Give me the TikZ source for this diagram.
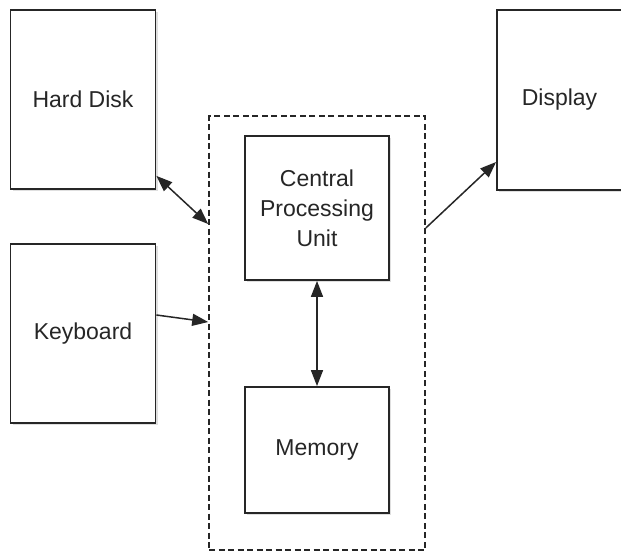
\documentclass[tikz,border=0pt]{standalone}
\usepackage{fontspec}
\setmainfont{Liberation Sans}
\usetikzlibrary{arrows.meta,shadows,calc}
\definecolor{boxline}{HTML}{262626}
\definecolor{txt}{HTML}{262626}
\tikzset{
  blk/.style={draw=boxline, line width=1.8pt, fill=white, rectangle, inner sep=0pt,
    align=center, text=txt, font=\fontsize{23}{30}\selectfont,
    drop shadow={opacity=0.25, shadow xshift=2pt, shadow yshift=-2pt}},
  grp/.style={draw=boxline, line width=1.6pt, dash pattern=on 6pt off 3.5pt, rectangle, inner sep=0pt},
  conn/.style={draw=boxline, line width=1.5pt},
  tip/.style={-{Triangle[length=16pt,width=12pt]}},
  tips/.style={{Triangle[length=16pt,width=12pt]}-{Triangle[length=16pt,width=12pt]}}
}
\begin{document}
\begin{tikzpicture}[x=1pt,y=-1pt]
\useasboundingbox (0,0) rectangle (621,557);
\clip (0,0) rectangle (621,557);
\node[blk, minimum width=145pt, minimum height=179pt] (hd) at (83,99.5) {Hard Disk};
\node[blk, minimum width=145pt, minimum height=179pt] (kb) at (83,333.5) {Keyboard};
\node[grp, minimum width=216pt, minimum height=434pt] (grp) at (317,333) {};
\node[blk, minimum width=144pt, minimum height=144pt] (cpu) at (317,208) {Central\\Processing\\Unit};
\node[blk, minimum width=144pt, minimum height=126pt] (mem) at (317,450) {Memory};
\node[blk, minimum width=125pt, minimum height=180pt] (disp) at (559.5,100) {Display};
\coordinate (hdA) at ([yshift=14pt]hd.south east);
\coordinate (grpA) at ([yshift=109pt]grp.west);
\coordinate (kbA) at ([yshift=18.5pt]kb.east);
\coordinate (grpB) at ([yshift=11pt]grp.west);
\coordinate (grpC) at ([yshift=105pt]grp.east);
\coordinate (dispA) at ([yshift=-62pt]disp.west);
\draw[conn, tips] (hdA) -- (grpA);
\draw[conn, tip] (kbA) -- (grpB);
\draw[conn, tips] (cpu.south) -- (mem.north);
\draw[conn, tip] (grpC) -- (dispA);
\end{tikzpicture}
\end{document}
